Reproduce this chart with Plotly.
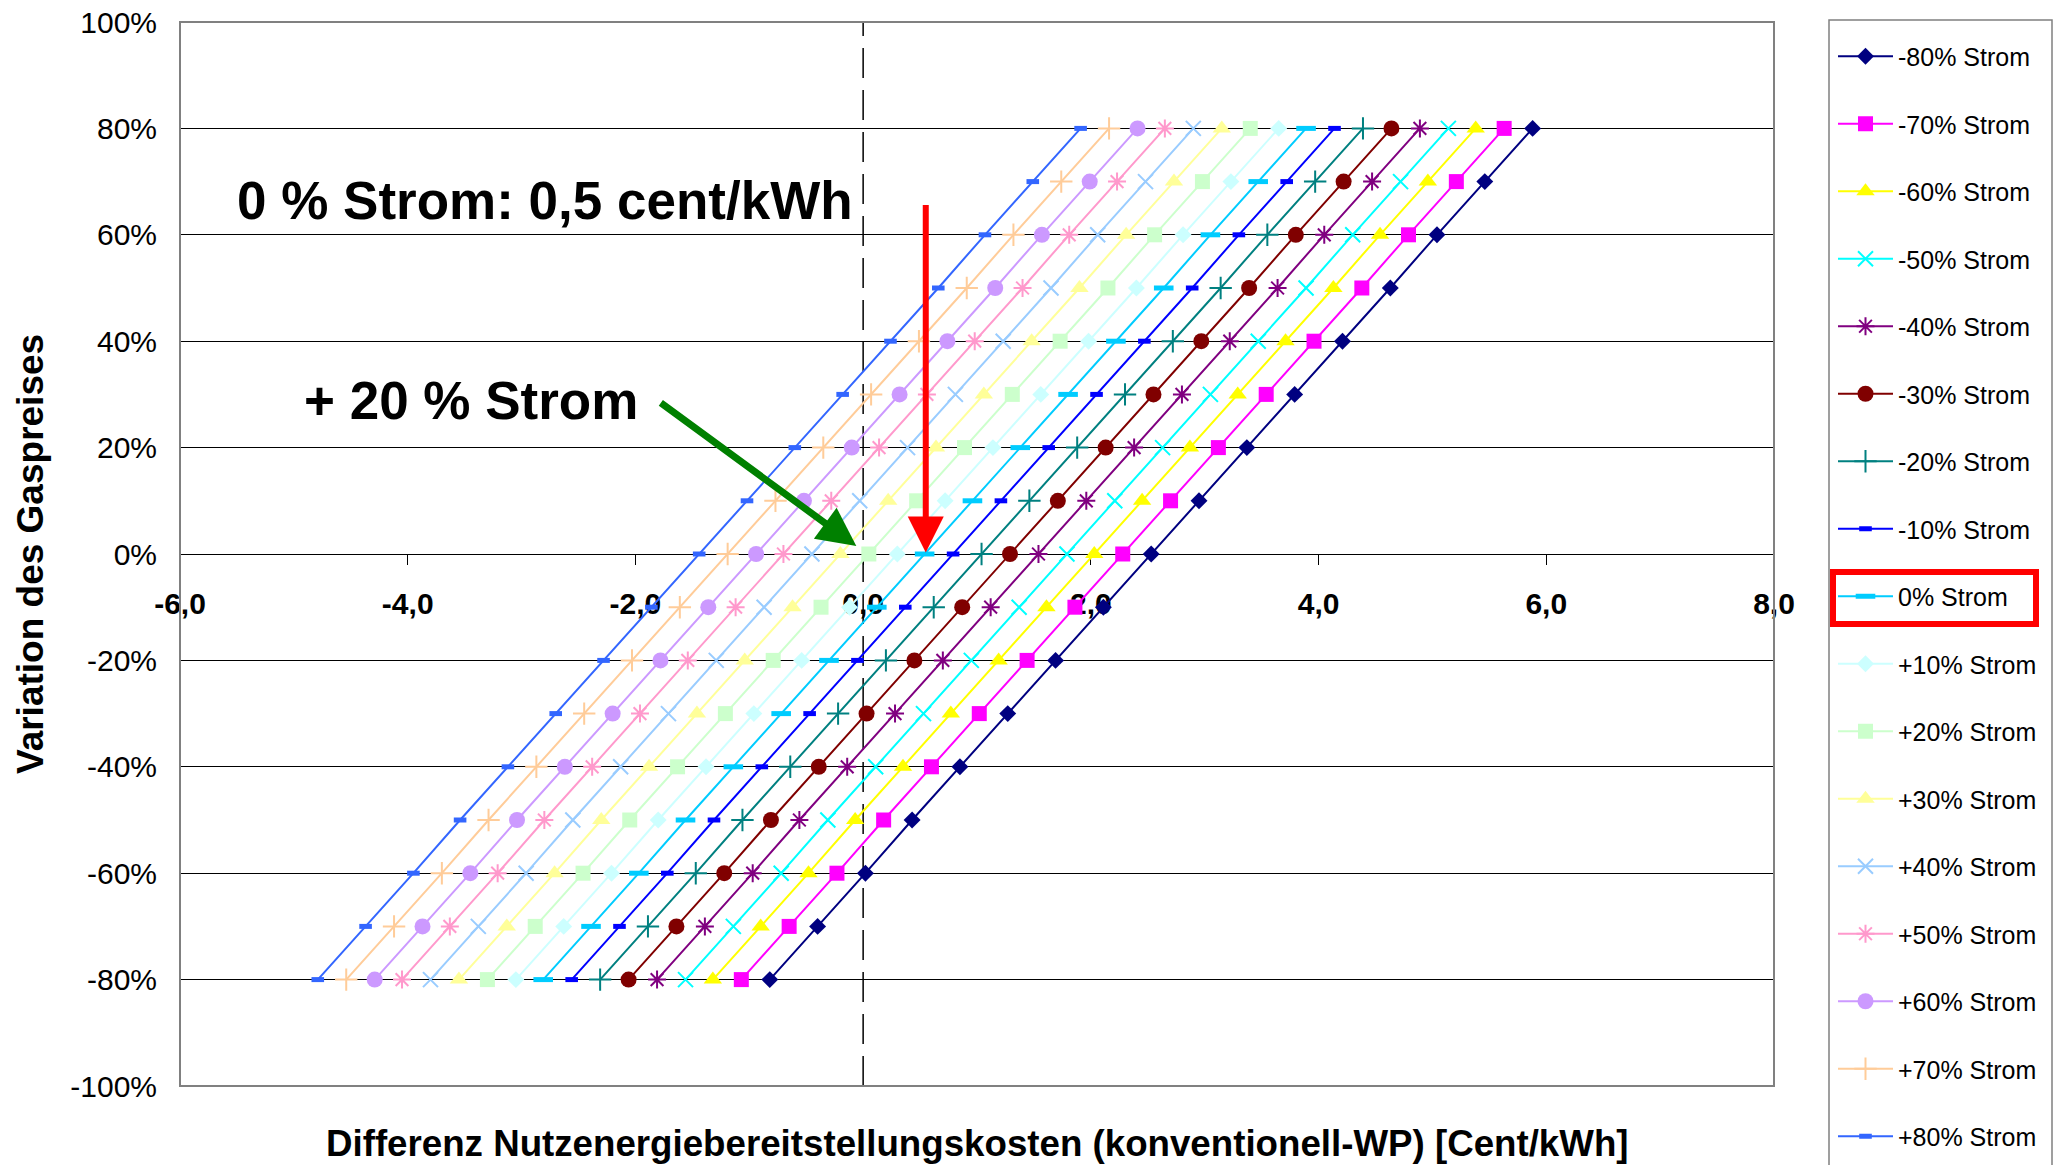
import plotly.graph_objects as go

# ---------------- data ----------------
gas_variation = [-80, -70, -60, -50, -40, -30, -20, -10, 0, 10, 20, 30, 40, 50, 60, 70, 80]

strom_m80 = [-0.82, -0.40, 0.02, 0.43, 0.85, 1.27, 1.69, 2.11, 2.53, 2.95, 3.37, 3.79, 4.21, 4.63, 5.04, 5.46, 5.88]
strom_m70 = [-1.07, -0.65, -0.23, 0.18, 0.60, 1.02, 1.44, 1.86, 2.28, 2.70, 3.12, 3.54, 3.96, 4.38, 4.79, 5.21, 5.63]
strom_m60 = [-1.32, -0.90, -0.48, -0.07, 0.35, 0.77, 1.19, 1.61, 2.03, 2.45, 2.87, 3.29, 3.71, 4.13, 4.54, 4.96, 5.38]
strom_m50 = [-1.56, -1.14, -0.72, -0.31, 0.11, 0.53, 0.95, 1.37, 1.79, 2.21, 2.63, 3.05, 3.47, 3.89, 4.30, 4.72, 5.14]
strom_m40 = [-1.81, -1.39, -0.97, -0.56, -0.14, 0.28, 0.70, 1.12, 1.54, 1.96, 2.38, 2.80, 3.22, 3.64, 4.05, 4.47, 4.89]
strom_m30 = [-2.06, -1.64, -1.22, -0.81, -0.39, 0.03, 0.45, 0.87, 1.29, 1.71, 2.13, 2.55, 2.97, 3.39, 3.80, 4.22, 4.64]
strom_m20 = [-2.31, -1.89, -1.47, -1.06, -0.64, -0.22, 0.20, 0.62, 1.04, 1.46, 1.88, 2.30, 2.72, 3.14, 3.55, 3.97, 4.39]
strom_m10 = [-2.56, -2.14, -1.72, -1.31, -0.89, -0.47, -0.05, 0.37, 0.79, 1.21, 1.63, 2.05, 2.47, 2.89, 3.30, 3.72, 4.14]
strom_0 = [-2.81, -2.39, -1.97, -1.56, -1.14, -0.72, -0.30, 0.12, 0.54, 0.96, 1.38, 1.80, 2.22, 2.64, 3.05, 3.47, 3.89]
strom_p10 = [-3.05, -2.63, -2.21, -1.80, -1.38, -0.96, -0.54, -0.12, 0.30, 0.72, 1.14, 1.56, 1.98, 2.40, 2.81, 3.23, 3.65]
strom_p20 = [-3.30, -2.88, -2.46, -2.05, -1.63, -1.21, -0.79, -0.37, 0.05, 0.47, 0.89, 1.31, 1.73, 2.15, 2.56, 2.98, 3.40]
strom_p30 = [-3.55, -3.13, -2.71, -2.30, -1.88, -1.46, -1.04, -0.62, -0.20, 0.22, 0.64, 1.06, 1.48, 1.90, 2.31, 2.73, 3.15]
strom_p40 = [-3.80, -3.38, -2.96, -2.55, -2.13, -1.71, -1.29, -0.87, -0.45, -0.03, 0.39, 0.81, 1.23, 1.65, 2.06, 2.48, 2.90]
strom_p50 = [-4.05, -3.63, -3.21, -2.80, -2.38, -1.96, -1.54, -1.12, -0.70, -0.28, 0.14, 0.56, 0.98, 1.40, 1.81, 2.23, 2.65]
strom_p60 = [-4.29, -3.87, -3.45, -3.04, -2.62, -2.20, -1.78, -1.36, -0.94, -0.52, -0.10, 0.32, 0.74, 1.16, 1.57, 1.99, 2.41]
strom_p70 = [-4.54, -4.12, -3.70, -3.29, -2.87, -2.45, -2.03, -1.61, -1.19, -0.77, -0.35, 0.07, 0.49, 0.91, 1.32, 1.74, 2.16]
strom_p80 = [-4.79, -4.37, -3.95, -3.54, -3.12, -2.70, -2.28, -1.86, -1.44, -1.02, -0.60, -0.18, 0.24, 0.66, 1.07, 1.49, 1.91]

series_names = ["-80% Strom", "-70% Strom", "-60% Strom", "-50% Strom", "-40% Strom",
                "-30% Strom", "-20% Strom", "-10% Strom", "0% Strom", "+10% Strom",
                "+20% Strom", "+30% Strom", "+40% Strom", "+50% Strom", "+60% Strom",
                "+70% Strom", "+80% Strom"]
series_x = [strom_m80, strom_m70, strom_m60, strom_m50, strom_m40, strom_m30, strom_m20,
            strom_m10, strom_0, strom_p10, strom_p20, strom_p30, strom_p40, strom_p50,
            strom_p60, strom_p70, strom_p80]

x_tick_vals = [-6, -4, -2, 0, 2, 4, 6, 8]
x_tick_text = ["-6,0", "-4,0", "-2,0", "0,0", "2,0", "4,0", "6,0", "8,0"]
y_tick_vals = [-100, -80, -60, -40, -20, 0, 20, 40, 60, 80, 100]
y_tick_text = ["-100%", "-80%", "-60%", "-40%", "-20%", "0%", "20%", "40%", "60%", "80%", "100%"]

x_title = "Differenz Nutzenergiebereitstellungskosten (konventionell-WP) [Cent/kWh]"
y_title = "Variation des Gaspreises"
note_strom0 = "0 % Strom: 0,5 cent/kWh"
note_strom20 = "+ 20 % Strom"

# ---------------- styles ----------------
colors = ["#000080", "#FF00FF", "#FFFF00", "#00FFFF", "#800080", "#800000", "#008080",
          "#0000FF", "#00CCFF", "#CCFFFF", "#CCFFCC", "#FFFF99", "#99CCFF", "#FF99CC",
          "#CC99FF", "#FFCC99", "#3366FF"]
symbols = ["diamond", "square", "triangle-up", "x-thin-open", "asterisk-open", "circle",
           "cross-thin-open", "line-ew-open", "line-ew-open", "diamond", "square",
           "triangle-up", "x-thin-open", "asterisk-open", "circle", "cross-thin-open",
           "line-ew-open"]
msizes = [13, 15, 16, 15, 15, 16, 16, 9, 14, 13, 15, 16, 15, 15, 16, 16, 9]
mlw = [0, 0, 0, 2, 2, 0, 2, 5, 5, 0, 0, 0, 2, 2, 0, 2, 5]

FONT = "Liberation Sans, Arial, sans-serif"

fig = go.Figure()
for name, xs, c, s, ms, lw in zip(series_names, series_x, colors, symbols, msizes, mlw):
    fig.add_trace(go.Scatter(
        x=xs, y=gas_variation, name=name, mode="lines+markers",
        legendgroup=name,
        line=dict(color=c, width=2),
        marker=dict(symbol=s, size=ms, color=c, line=dict(color=c, width=lw)),
    ))

W, H = 2060, 1165
ML, MR, MT, MB = 180, 286, 22, 79
PW, PH = W - ML - MR, H - MT - MB


def px_x(p):
    return (p - ML) / PW


def px_y(p):
    return (H - MB - p) / PH


fig.update_layout(
    width=W, height=H,
    margin=dict(l=ML, r=MR, t=MT, b=MB, pad=0, autoexpand=False),
    paper_bgcolor="white", plot_bgcolor="white",
    font=dict(family=FONT, color="black"),
    xaxis=dict(range=[-6, 8], anchor="free", position=0.5,
               showline=True, linecolor="black", linewidth=1,
               ticks="outside", ticklen=10, tickcolor="black", tickwidth=1,
               tickvals=x_tick_vals, ticktext=x_tick_text,
               tickfont=dict(family=FONT, size=30, weight="bold", color="black"),
               ticklabelstandoff=13,
               showgrid=False, zeroline=False, layer="below traces"),
    yaxis=dict(range=[-100, 100], tickvals=y_tick_vals, ticktext=y_tick_text,
               tickfont=dict(family=FONT, size=30, color="black"),
               showgrid=True, gridcolor="#000000", gridwidth=1,
               zeroline=False, showline=False, ticks="", ticklabelstandoff=22),
    showlegend=True,
    legend=dict(x=px_x(1833), xanchor="left", y=px_y(33.5), yanchor="top",
                font=dict(family=FONT, size=25, color="black"),
                traceorder="grouped", tracegroupgap=32, itemwidth=55,
                maxheight=1165,
                bgcolor="rgba(0,0,0,0)", borderwidth=0),
    shapes=[
        dict(type="rect", xref="paper", yref="paper", x0=0, x1=1, y0=0, y1=1,
             line=dict(color="#808080", width=2), layer="above"),
        dict(type="line", xref="x", yref="paper", x0=0, x1=0, y0=0, y1=1,
             line=dict(color="black", width=1.5, dash="30px,12px"), layer="below"),
        dict(type="rect", xref="paper", yref="paper",
             x0=px_x(1829), x1=px_x(2052), y0=px_y(1180), y1=px_y(20),
             line=dict(color="#808080", width=1.5)),
        dict(type="rect", xref="paper", yref="paper",
             x0=px_x(1833), x1=px_x(2036), y0=px_y(624), y1=px_y(572),
             line=dict(color="#FF0000", width=6)),
    ],
    annotations=[
        dict(text=note_strom0, x=-2.79, y=66.4, xref="x", yref="y", showarrow=False,
             font=dict(family=FONT, size=53, weight="bold", color="black"),
             xanchor="center", yanchor="middle"),
        dict(text=note_strom20, x=-3.44, y=28.8, xref="x", yref="y", showarrow=False,
             font=dict(family=FONT, size=53, weight="bold", color="black"),
             xanchor="center", yanchor="middle"),
        dict(text="", x=-0.06, y=1.5, xref="x", yref="y", ax=-1.79, ay=28.6,
             axref="x", ayref="y", showarrow=True, arrowhead=2, arrowsize=1.1,
             arrowwidth=7, arrowcolor="#008000", standoff=0),
        dict(text="", x=0.55, y=0.3, xref="x", yref="y", ax=0.55, ay=65.9,
             axref="x", ayref="y", showarrow=True, arrowhead=2, arrowsize=1.2,
             arrowwidth=6, arrowcolor="#FF0000", standoff=0),
        dict(text=x_title, x=0.5, y=px_y(1143), xref="paper", yref="paper",
             showarrow=False, xanchor="center", yanchor="middle",
             font=dict(family=FONT, size=36.7, weight="bold", color="black")),
        dict(text=y_title, x=px_x(30), y=0.5, xref="paper", yref="paper",
             showarrow=False, xanchor="center", yanchor="middle", textangle=-90,
             font=dict(family=FONT, size=37, weight="bold", color="black")),
    ],
)

fig.write_html("out.html")
